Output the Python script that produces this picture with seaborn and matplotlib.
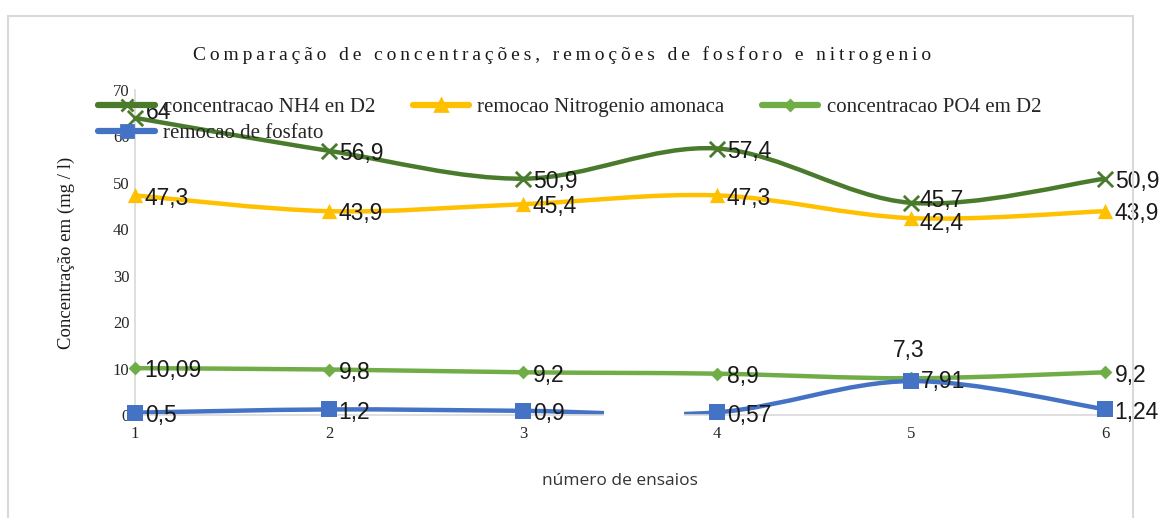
import numpy as np
import pandas as pd
import seaborn as sns
from matplotlib import pyplot as plt
from matplotlib.path import Path
from matplotlib.patches import PathPatch, Rectangle
from matplotlib.lines import Line2D

ensaios = [1, 2, 3, 4, 5, 6]
nh4 = [64, 56.9, 50.9, 57.4, 45.7, 50.9]
nitrogenio = [47.3, 43.9, 45.4, 47.3, 42.4, 43.9]
po4 = [10.09, 9.8, 9.2, 8.9, 7.91, 9.2]
fosfato = [0.5, 1.2, 0.9, 0.57, 7.3, 1.24]

nomes = ['concentracao NH4 en D2', 'remocao Nitrogenio amonaca',
         'concentracao PO4 em D2', 'remocao de fosfato']
cores = ['#4A7A2C', '#FFC000', '#70AD47', '#4472C4']
marcadores = ['x', '^', 'D', 's']
tam = [11, 11, 7, 11]

df = pd.DataFrame({'ensaio': ensaios * 4,
                   'valor': nh4 + nitrogenio + po4 + fosfato,
                   'serie': np.repeat(nomes, len(ensaios))})

sns.set_theme(style='white')
serif = ['Liberation Serif', 'DejaVu Serif']
sans = ['Liberation Sans', 'DejaVu Sans']

fig = plt.figure(figsize=(11.73, 5.18), dpi=100)
ax = fig.add_axes([135/1173, 103/518, 970/1173, 325/518])

# frame around the chart area
fig.patches.append(Rectangle((8/1173, -0.1), 1125/1173, 1.07, transform=fig.transFigure,
                             fill=False, edgecolor='#d9d9d9', lw=1.5))


def suave(ax, xs, ys, cor):
    # smooth line like excel (catmull-rom as bezier)
    p = np.column_stack([xs, ys]).astype(float)
    ext = np.vstack([p[0], p, p[-1]])
    verts = [tuple(p[0])]
    codes = [Path.MOVETO]
    for i in range(1, len(ext) - 2):
        p0, p1, p2, p3 = ext[i - 1], ext[i], ext[i + 1], ext[i + 2]
        c1 = p1 + (p2 - p0) / 6
        c2 = p2 - (p3 - p1) / 6
        verts += [tuple(c1), tuple(c2), tuple(p2)]
        codes += [Path.CURVE4] * 3
    ax.add_patch(PathPatch(Path(verts, codes), fill=False, edgecolor=cor, lw=3.2,
                           capstyle='round', zorder=2))


for nome, cor, m, s in zip(nomes, cores, marcadores, tam):
    d = df[df['serie'] == nome]
    suave(ax, d['ensaio'].values, d['valor'].values, cor)
    sns.scatterplot(data=d, x='ensaio', y='valor', ax=ax, color=cor, marker=m, s=s**2,
                    linewidth=2 if m == 'x' else 0, edgecolor=cor, zorder=3, clip_on=False,
                    legend=False)

# empty label box hiding part of the blue line
ax.add_patch(Rectangle((3.42, -1.8), 0.41, 2.9, facecolor='white', edgecolor='none', zorder=4,
                       clip_on=False))

# data labels
def fmt(v):
    return f'{v:g}'.replace('.', ',')

desloc = {('concentracao NH4 en D2', 0): (8, 4), ('remocao de fosfato', 4): (-13, 22),
          ('concentracao NH4 en D2', 4): (6, 2), ('remocao Nitrogenio amonaca', 4): (6, -4)}
for nome in nomes:
    d = df[df['serie'] == nome].reset_index(drop=True)
    for i, r in d.iterrows():
        dx, dy = desloc.get((nome, i), (7, -2))
        ax.annotate(fmt(r['valor']), xy=(r['ensaio'], r['valor']), xytext=(dx, dy),
                    textcoords='offset points', ha='left', va='center', fontsize=16.5,
                    family=sans, color='#1a1a1a', zorder=5, annotation_clip=False)

ax.set_xlim(1, 6)
ax.set_ylim(0, 70)
ax.set_xticks(ensaios)
ax.set_yticks(range(0, 71, 10))
ax.tick_params(axis='both', length=0, labelsize=12, pad=8)
for t in ax.get_xticklabels() + ax.get_yticklabels():
    t.set_family(serif)
ax.tick_params(axis='y', pad=4)
for sp in ['top', 'right']:
    ax.spines[sp].set_visible(False)
for sp in ['left', 'bottom']:
    ax.spines[sp].set_color('#d9d9d9')
    ax.spines[sp].set_linewidth(1.2)
ax.grid(False)

ax.set_xlabel('número de ensaios', fontsize=12.5, family=['Open Sans', 'DejaVu Sans'],
              color='#333333', labelpad=22)
ax.set_ylabel('Concentração em (mg / l)', fontsize=13.5, family=serif, color='#1a1a1a',
              labelpad=27)

titulo = 'Comparação de concentrações, remoções de fosforo e nitrogenio'
fig.text(562/1173, 1 - 55/518, '\u2009'.join(titulo), ha='center', va='center',
         fontsize=14, family=serif, color='#1a1a1a')

handles = [Line2D([], [], color=c, lw=4.5, marker=m, markersize=s * 0.8, markeredgewidth=2)
           for c, m, s in zip(cores, marcadores, tam)]
ordem = [0, 3, 1, 2]
leg = fig.legend([handles[i] for i in ordem], [nomes[i] for i in ordem], ncol=3,
                 loc='upper left', bbox_to_anchor=(88/1173, 1 - 87/518), frameon=False,
                 prop={'family': serif, 'size': 15}, handlelength=2.7,
                 handletextpad=0.4, columnspacing=1.8, labelspacing=0.3, borderpad=0)

fig.savefig('out.png', dpi=100, facecolor='white')
